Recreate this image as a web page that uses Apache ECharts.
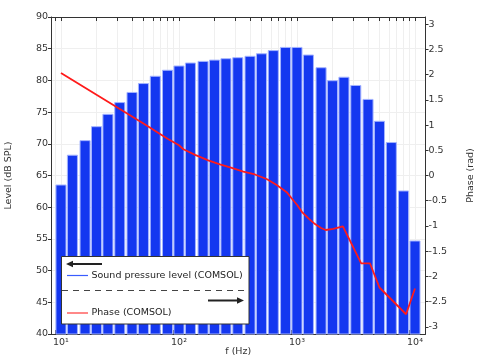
<!DOCTYPE html>
<html>
<head>
<meta charset="utf-8">
<script src="https://cdn.jsdelivr.net/npm/echarts@6/dist/echarts.min.js"></script>
<style>html,body{margin:0;padding:0;background:#fff;}#c{width:479px;height:360px;}</style>
</head>
<body>
<div id="c"></div>
<script>
// 1/3-octave band centre frequencies (Hz)
const bandFreqs = [10, 12.5, 16, 20, 25, 31.5, 40, 50, 63, 80, 100, 125, 160, 200, 250, 315, 400, 500, 630, 800, 1000, 1250, 1600, 2000, 2500, 3150, 4000, 5000, 6300, 8000, 10000];
// Sound pressure level (dB SPL)
const splValues = [63.5, 68.2, 70.5, 72.7, 74.65, 76.5, 78.1, 79.5, 80.65, 81.6, 82.27, 82.74, 83.0, 83.2, 83.42, 83.58, 83.8, 84.2, 84.7, 85.2, 85.2, 84.0, 82.0, 79.95, 80.5, 79.2, 77.0, 73.55, 70.2, 62.56, 54.67];
// Phase curve (rad)
const phaseFreqs = [10, 20, 31.5, 50, 63, 80, 100, 109, 137, 177, 222, 280, 351, 440, 553, 673, 818, 900, 1000, 1100, 1250, 1400, 1600, 1750, 2030, 2100, 2450, 3500, 4150, 5000, 8400, 10000];
const phaseValues = [2.03, 1.60, 1.32, 1.03, 0.88, 0.73, 0.60, 0.52, 0.41, 0.30, 0.22, 0.15, 0.075, 0.02, -0.07, -0.19, -0.33, -0.45, -0.58, -0.72, -0.85, -0.95, -1.04, -1.08, -1.06, -1.04, -1.01, -1.74, -1.74, -2.22, -2.75, -2.24];
// Axis ticks
const xMajorTicks = [10, 100, 1000, 10000];
const xMajorLabels = ['10\u00b9', '10\u00b2', '10\u00b3', '10\u2074'];
const xMinorTicks = [9, 10, 20, 30, 40, 50, 60, 70, 80, 90, 100, 200, 300, 400, 500, 600, 700, 800, 900, 1000, 2000, 3000, 4000, 5000, 6000, 7000, 8000, 9000, 10000];
const phaseTicks = [-3, -2.5, -2, -1.5, -1, -0.5, 0, 0.5, 1, 1.5, 2, 2.5, 3];
const legendLabels = ['Sound pressure level (COMSOL)', 'Phase (COMSOL)'];
const axisNames = { x: 'f (Hz)', left: 'Level (dB SPL)', right: 'Phase (rad)' };

const FONT = 'DejaVu Sans';
const TXT = '#333';
const X_MIN = 8.23, X_MAX = 12276;
const BAR_BLUE = '#1437f0';
const halfBand = Math.pow(2, 1 / 6);

const chart = echarts.init(document.getElementById('c'), null, { renderer: 'canvas' });

const barData = bandFreqs.map((f, i) => [f, splValues[i]]);
const phaseData = phaseFreqs.map((f, i) => [f, phaseValues[i]]);

const xCommon = {
  type: 'log',
  logBase: 10,
  min: X_MIN,
  max: X_MAX,
  axisLine: { show: true, onZero: false, lineStyle: { color: '#333', width: 1 } },
  axisTick: { show: true, inside: true, length: 4, customValues: xMinorTicks, lineStyle: { color: '#333' } },
  minorTick: { show: false }
};

const option = {
  animation: false,
  backgroundColor: '#fff',
  grid: { left: 51, right: 53.5, top: 17, bottom: 26, containLabel: false, outerBoundsMode: 'none' },
  xAxis: [
    Object.assign({}, xCommon, {
      position: 'bottom',
      name: axisNames.x,
      nameLocation: 'middle',
      nameGap: 13,
      nameMoveOverlap: false,
      nameTextStyle: { fontFamily: FONT, fontSize: 9.5, color: TXT, verticalAlign: 'top' },
      axisLabel: {
        show: true, margin: 4, fontFamily: FONT, fontSize: 9.5, color: TXT,
        customValues: xMajorTicks,
        formatter: v => xMajorLabels[Math.round(Math.log10(v)) - 1]
      },
      splitLine: { show: true, lineStyle: { color: '#efefef', width: 1 } }
    }),
    Object.assign({}, xCommon, {
      position: 'top',
      axisLabel: { show: false },
      splitLine: { show: false }
    })
  ],
  yAxis: [
    {
      type: 'value', position: 'left', min: 40, max: 90, interval: 5,
      name: axisNames.left, nameLocation: 'middle', nameRotate: 90, nameGap: 37, nameMoveOverlap: false,
      nameTextStyle: { fontFamily: FONT, fontSize: 9.5, color: TXT },
      axisLine: { show: true, lineStyle: { color: '#333' } },
      axisTick: { show: true, inside: false, length: 3, lineStyle: { color: '#333' } },
      axisLabel: { margin: 3, fontFamily: FONT, fontSize: 9.5, color: TXT },
      splitLine: { show: true, lineStyle: { color: '#efefef', width: 1 } }
    },
    {
      type: 'value', position: 'right', min: -Math.PI, max: Math.PI,
      name: axisNames.right, nameLocation: 'middle', nameRotate: 90, nameGap: 40, nameMoveOverlap: false,
      nameTextStyle: { fontFamily: FONT, fontSize: 9.5, color: TXT },
      axisLine: { show: true, lineStyle: { color: '#333' } },
      axisTick: { show: true, inside: false, length: 3, customValues: phaseTicks, lineStyle: { color: '#333' } },
      axisLabel: { margin: 3, fontFamily: FONT, fontSize: 9.5, color: TXT, customValues: phaseTicks,
        formatter: v => String(Math.round(v * 10) / 10) },
      splitLine: { show: false }
    }
  ],
  series: [
    {
      type: 'custom',
      xAxisIndex: 0, yAxisIndex: 0,
      data: barData,
      z: 2,
      renderItem: function (params, api) {
        const f = api.value(0), v = api.value(1);
        const p0 = api.coord([f / halfBand, v]);
        const p1 = api.coord([f * halfBand, 40]);
        return {
          type: 'rect',
          shape: { x: p0[0] + 0.9, y: p0[1], width: p1[0] - p0[0] - 1.8, height: p1[1] - p0[1] },
          style: { fill: BAR_BLUE, stroke: '#a3b3ff', lineWidth: 1 }
        };
      }
    },
    {
      type: 'line',
      xAxisIndex: 0, yAxisIndex: 1,
      data: phaseData,
      showSymbol: false,
      symbol: 'none',
      smooth: false,
      z: 5,
      lineStyle: { color: '#ff1a1a', width: 1.8 }
    }
  ],
  graphic: [
    { type: 'rect', z: 100, shape: { x: 61.5, y: 256.5, width: 187.5, height: 67.5 },
      style: { fill: '#fff', stroke: '#333', lineWidth: 1 } },
    // left arrow
    { type: 'line', z: 101, shape: { x1: 70, y1: 264, x2: 102, y2: 264 }, style: { stroke: '#222', lineWidth: 2 } },
    { type: 'polygon', z: 101, shape: { points: [[66, 264], [73, 260.8], [73, 267.2]] }, style: { fill: '#222' } },
    // SPL legend item
    { type: 'line', z: 101, shape: { x1: 67, y1: 275.5, x2: 88, y2: 275.5 }, style: { stroke: '#3a5cff', lineWidth: 1.2 } },
    { type: 'text', z: 101, x: 91.5, y: 275.5, style: { text: legendLabels[0], font: '9.5px "DejaVu Sans"', fill: '#222', verticalAlign: 'middle', align: 'left' } },
    // dashed separator
    { type: 'line', z: 101, shape: { x1: 62, y1: 290.5, x2: 249, y2: 290.5 }, style: { stroke: '#444', lineWidth: 1, lineDash: [6, 5] } },
    // right arrow
    { type: 'line', z: 101, shape: { x1: 208, y1: 300.5, x2: 240, y2: 300.5 }, style: { stroke: '#222', lineWidth: 2 } },
    { type: 'polygon', z: 101, shape: { points: [[244, 300.5], [237, 297.3], [237, 303.7]] }, style: { fill: '#222' } },
    // Phase legend item
    { type: 'line', z: 101, shape: { x1: 67, y1: 313, x2: 88, y2: 313 }, style: { stroke: '#ff3a3a', lineWidth: 1.2 } },
    { type: 'text', z: 101, x: 91.5, y: 313, style: { text: legendLabels[1], font: '9.5px "DejaVu Sans"', fill: '#222', verticalAlign: 'middle', align: 'left' } }
  ]
};

chart.setOption(option);
</script>
</body>
</html>
